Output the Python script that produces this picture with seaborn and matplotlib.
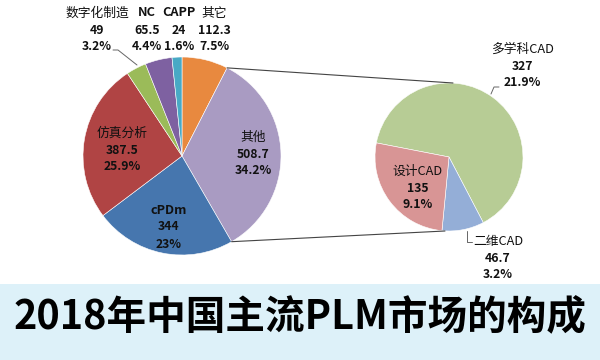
import matplotlib
matplotlib.use("Agg")
import matplotlib.pyplot as plt
import seaborn as sns
import numpy as np
from matplotlib.patches import Rectangle

sns.set_theme(style="white")
plt.rcParams['font.family'] = ['Noto Sans CJK SC', 'DejaVu Sans']

# ---- data ----
main_names = ["其它", "其他", "cPDm", "仿真分析", "数字化制造", "NC", "CAPP"]
main_values = [112.3, 508.7, 344, 387.5, 49, 65.5, 24]
main_value_labels = ["112.3", "508.7", "344", "387.5", "49", "65.5", "24"]
main_pcts = ["7.5%", "34.2%", "23%", "25.9%", "3.2%", "4.4%", "1.6%"]
main_colors = ["#E8893F", "#A99BC2", "#4676AE", "#B04444", "#9BBB59", "#7E61A1", "#48A9C5"]

sub_names = ["多学科CAD", "二维CAD", "设计CAD"]
sub_values = [327, 46.7, 135]
sub_value_labels = ["327", "46.7", "135"]
sub_pcts = ["21.9%", "3.2%", "9.1%"]
sub_colors = ["#B7CC95", "#94AED7", "#D89595"]

title = "2018年中国主流PLM市场的构成"

# ---- layout (pixel coords, y from top) ----
W, H = 600, 360
def Y(py):
    return H - py

fig = plt.figure(figsize=(6, 3.6), dpi=100)
ax = fig.add_axes([0, 0, 1, 1])

left_c = (182, Y(156)); left_r = 99
right_c = (449, Y(157)); right_r = 74

wl, _ = ax.pie(main_values, colors=main_colors, startangle=90, counterclock=False,
               center=left_c, radius=left_r,
               wedgeprops=dict(edgecolor="white", linewidth=0.4))
wr, _ = ax.pie(sub_values, colors=sub_colors, startangle=169, counterclock=False,
               center=right_c, radius=right_r,
               wedgeprops=dict(edgecolor="white", linewidth=0.4))

# connector lines from the "其他" wedge to the secondary pie
w = wl[1]
t1, t2 = np.deg2rad(w.theta1), np.deg2rad(w.theta2)
p_top = (left_c[0] + left_r*np.cos(t2), left_c[1] + left_r*np.sin(t2))
p_bot = (left_c[0] + left_r*np.cos(t1), left_c[1] + left_r*np.sin(t1))
q_top = (right_c[0] + 4, right_c[1] + right_r)
q_bot = (right_c[0] - 4, right_c[1] - right_r)
ax.plot([p_top[0], q_top[0]], [p_top[1], q_top[1]], color="#444444", lw=0.8)
ax.plot([p_bot[0], q_bot[0]], [p_bot[1], q_bot[1]], color="#444444", lw=0.8)

# label positions (pixel coords of the name line)
main_pos = [(214, 13), (253, 137), (169, 210), (122, 133), (97, 13), (147, 13), (179, 13)]
sub_pos = [(522, 49), (498, 241), (418, 171)]
LS = 17  # line step in px

def put_label(x, py, name, val, pct):
    latin = all(ord(c) < 128 for c in name)
    ax.text(x, Y(py), name, ha="center", va="center", fontsize=9.2,
            fontweight="bold" if latin else "normal", color="#111111")
    ax.text(x, Y(py + LS), val, ha="center", va="center", fontsize=8.8,
            fontweight="bold", color="#111111")
    ax.text(x, Y(py + 2*LS), pct, ha="center", va="center", fontsize=8.8,
            fontweight="bold", color="#111111")

for (x, py), n, v, p in zip(main_pos, main_names, main_value_labels, main_pcts):
    put_label(x, py, n, v, p)
for (x, py), n, v, p in zip(sub_pos, sub_names, sub_value_labels, sub_pcts):
    put_label(x, py, n, v, p)

# leader lines
lc = "#666666"
ax.plot([113, 118, 137], [Y(50), Y(50), Y(65)], color=lc, lw=0.7)
ax.plot([499, 494, 491], [Y(87), Y(87), Y(94)], color=lc, lw=0.7)
ax.plot([467, 467, 472], [Y(231), Y(242), Y(242)], color=lc, lw=0.7)

# title band
ax.add_patch(Rectangle((0, 0), W, Y(284), facecolor="#DDF1F9", edgecolor="none", zorder=0))
ax.text(W/2, Y(318), title, ha="center", va="center", fontsize=28.5,
        fontweight="bold", color="#000000")

ax.set_xlim(0, W)
ax.set_ylim(0, H)
ax.set_aspect("equal")
ax.axis("off")

fig.savefig("out.png", dpi=100)
